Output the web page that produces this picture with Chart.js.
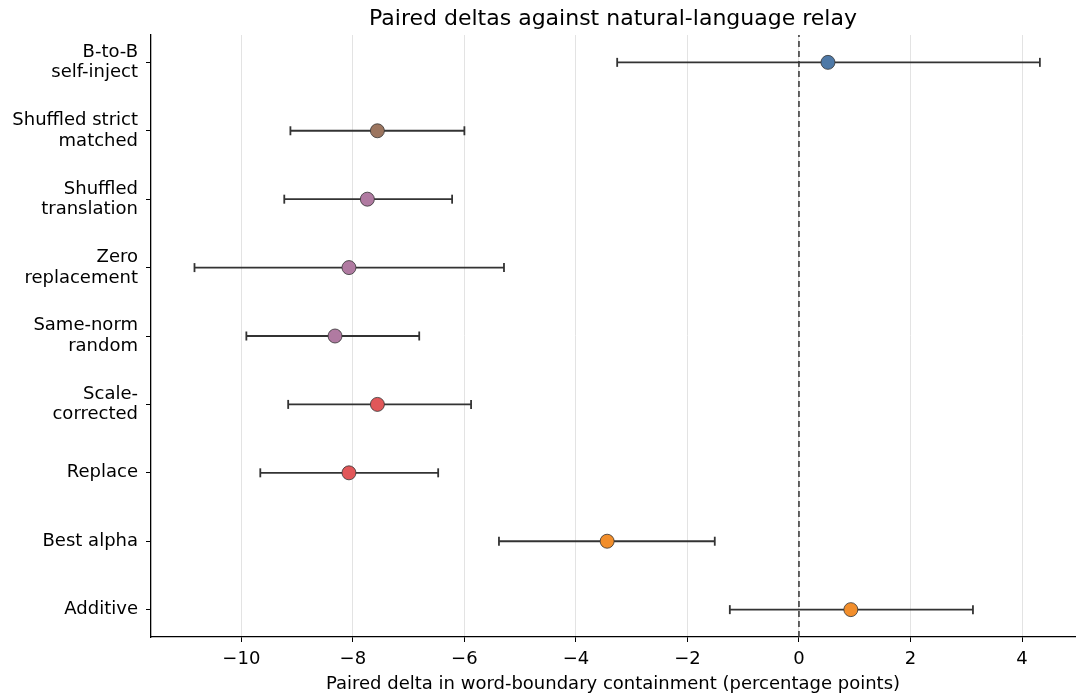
<!DOCTYPE html>
<html>
<head>
<meta charset="utf-8">
<script src="https://cdn.jsdelivr.net/npm/chart.js@4"></script>
<style>
  html, body { margin: 0; padding: 0; background: #fff; }
  #wrap { width: 1076px; height: 696px; }
</style>
</head>
<body>
<div id="wrap"><canvas id="chart" width="1076" height="696"></canvas></div>
<script>
// categories listed bottom to top (y = 0 is the lowest row)
const categories = [
  'Additive',
  'Best alpha',
  'Replace',
  ['Scale-', 'corrected'],
  ['Same-norm', 'random'],
  ['Zero', 'replacement'],
  ['Shuffled', 'translation'],
  ['Shuffled strict', 'matched'],
  ['B-to-B', 'self-inject']
];
const deltas = [0.93, -3.44, -8.07, -7.56, -8.32, -8.07, -7.74, -7.56, 0.52];
const lowerCI = [-1.24, -5.38, -9.66, -9.16, -9.91, -10.84, -9.23, -9.12, -3.26];
const upperCI = [3.12, -1.51, -6.47, -5.88, -6.81, -5.29, -6.22, -6.00, 4.32];
const pointColors = ['#f28e2b', '#f28e2b', '#e15759', '#e15759', '#b07aa1', '#b07aa1', '#b07aa1', '#9c755f', '#4e79a7'];
const xTicks = [-10, -8, -6, -4, -2, 0, 2, 4];
const yTicks = [0, 1, 2, 3, 4, 5, 6, 7, 8];
const TITLE = 'Paired deltas against natural-language relay';

const FONT = 'DejaVu Sans';
const datasets = [];

// zero reference line (drawn at the back)
datasets.push({
  type: 'scatter',
  order: 3,
  data: [{ x: 0, y: -0.4 }, { x: 0, y: 8.4 }],
  showLine: true,
  borderColor: '#333',
  borderWidth: 1.5,
  borderDash: [6, 4],
  pointRadius: 0
});

// error bars with caps
categories.forEach((c, i) => {
  datasets.push({
    type: 'scatter',
    order: 2,
    data: [{ x: lowerCI[i], y: i }, { x: upperCI[i], y: i }],
    showLine: true,
    borderColor: '#333',
    borderWidth: 1.8,
    pointStyle: 'line',
    rotation: 90,
    pointRadius: 4.5,
    pointBorderColor: '#333',
    pointBorderWidth: 1.8,
    pointHoverRadius: 4.5
  });
});

// point estimates on top
datasets.push({
  type: 'scatter',
  order: 1,
  data: deltas.map((d, i) => ({ x: d, y: i })),
  pointRadius: 7,
  pointHoverRadius: 7,
  backgroundColor: pointColors,
  pointBorderColor: '#333',
  pointBorderWidth: 0.8
});

// title centred over the plot area, as matplotlib does
const axesTitle = {
  id: 'axesTitle',
  afterDraw(chart) {
    const { ctx, chartArea } = chart;
    ctx.save();
    ctx.font = `22px ${FONT}`;
    ctx.fillStyle = '#000';
    ctx.textAlign = 'center';
    ctx.textBaseline = 'middle';
    ctx.fillText(TITLE, (chartArea.left + chartArea.right) / 2, 19);
    ctx.restore();
  }
};

new Chart(document.getElementById('chart'), {
  type: 'scatter',
  data: { datasets },
  plugins: [axesTitle],
  options: {
    responsive: false,
    animation: false,
    layout: { autoPadding: false, padding: { left: 0, right: 1, top: 35, bottom: 0 } },
    plugins: {
      legend: { display: false },
      tooltip: { enabled: false },
      title: { display: false }
    },
    scales: {
      x: {
        type: 'linear',
        min: -11.62,
        max: 4.95,
        afterBuildTicks: s => { s.ticks = xTicks.map(v => ({ value: v })); },
        afterFit: s => { s.height = 59; },
        ticks: {
          color: '#000',
          font: { family: FONT, size: 18 },
          padding: 7,
          callback: v => (v < 0 ? '\u2212' + Math.abs(v) : String(v))
        },
        grid: { color: '#e3e3e3', lineWidth: 1, tickColor: '#000', tickLength: 5 },
        border: { color: '#000', width: 1.3 },
        title: {
          display: true,
          text: 'Paired delta in word-boundary containment (percentage points)',
          color: '#000',
          font: { family: FONT, size: 18 },
          padding: { top: 0, bottom: 1 }
        }
      },
      y: {
        type: 'linear',
        min: -0.4,
        max: 8.4,
        afterBuildTicks: s => { s.ticks = yTicks.map(v => ({ value: v })); },
        afterFit: s => { s.width = 151; },
        ticks: {
          color: '#000',
          font: { family: FONT, size: 18, lineHeight: 1.15 },
          padding: 8,
          callback: v => categories[v]
        },
        grid: { drawOnChartArea: false, tickColor: '#000', tickLength: 5 },
        border: { color: '#000', width: 1.3 }
      }
    }
  }
});
</script>
</body>
</html>
